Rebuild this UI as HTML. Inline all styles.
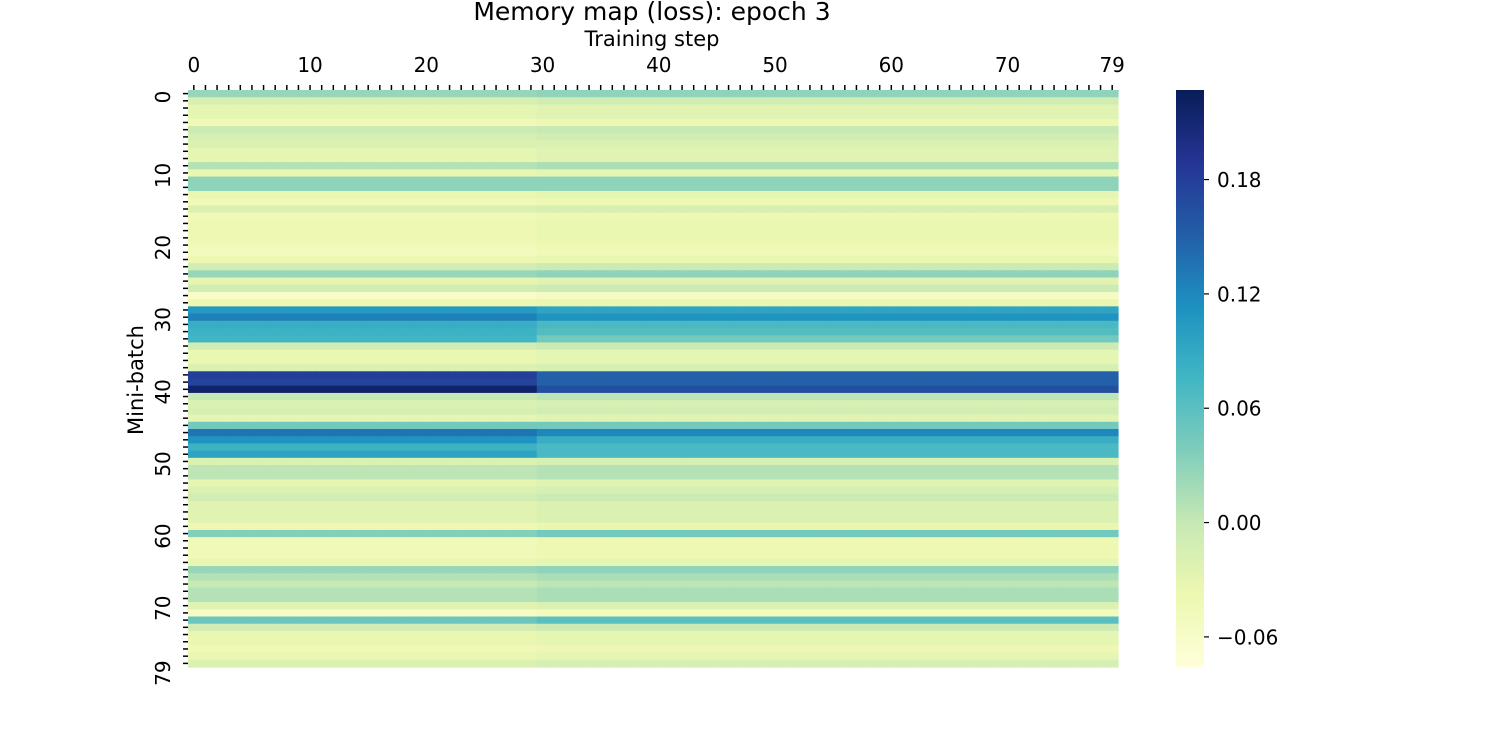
<!DOCTYPE html>
<html><head><meta charset="utf-8">
<style>
html,body{margin:0;padding:0;background:#fff;}
svg{display:block;font-family:"DejaVu Sans","Liberation Sans",sans-serif;}
</style></head>
<body>
<svg id="chart" width="1500" height="750" viewBox="0 0 1500 750" xmlns="http://www.w3.org/2000/svg">
  <rect width="1500" height="750" fill="#fff"/>
  <text x="652" y="20" font-size="25" text-anchor="middle" fill="#000">Memory map (loss): epoch 3</text>
  <text x="652" y="46" font-size="21" text-anchor="middle" fill="#000">Training step</text>
  <text transform="translate(143,380) rotate(-90)" font-size="21" text-anchor="middle" fill="#000">Mini-batch</text>
  <g id="cells"></g>
  <g id="xaxis"></g>
  <g id="yaxis"></g>
  <defs>
    <linearGradient id="cbgrad" x1="0" y1="1" x2="0" y2="0">
      <stop offset="0" stop-color="#ffffd9"/><stop offset="0.125" stop-color="#edf8b1"/>
      <stop offset="0.25" stop-color="#c7e9b4"/><stop offset="0.375" stop-color="#7fcdbb"/>
      <stop offset="0.5" stop-color="#41b6c4"/><stop offset="0.625" stop-color="#1d91c0"/>
      <stop offset="0.75" stop-color="#225ea8"/><stop offset="0.875" stop-color="#253494"/>
      <stop offset="1" stop-color="#081d58"/>
    </linearGradient>
  </defs>
  <rect x="1176" y="90" width="28" height="577" fill="url(#cbgrad)"/>
  <g id="cbaxis"></g>
</svg>
<script>
const steps = 80, batches = 80, splitStep = 30;
const rowBefore = [0.025,-0.015,-0.03,-0.03,-0.045,-0.005,-0.015,-0.02,-0.03,-0.03,
0.01,-0.035,0.03,0.03,-0.035,-0.045,-0.02,-0.045,-0.04,-0.04,
-0.04,-0.045,-0.05,-0.04,-0.01,0.025,-0.03,-0.01,-0.06,-0.04,
0.105,0.125,0.085,0.08,0.075,-0.01,-0.035,-0.035,-0.02,0.18,
0.175,0.215,0.0,-0.02,-0.015,-0.03,0.045,0.135,0.11,0.08,
0.095,-0.02,0.005,0.005,-0.03,-0.02,-0.01,-0.025,-0.025,-0.025,
-0.04,0.035,-0.045,-0.045,-0.045,-0.035,0.025,0.01,0.0,0.01,
0.01,-0.025,-0.055,0.05,-0.01,-0.035,-0.035,-0.045,-0.035,-0.02];
const rowAfter = [0.03,-0.01,-0.025,-0.025,-0.04,0.0,-0.01,-0.02,-0.025,-0.025,
0.015,-0.03,0.03,0.03,-0.03,-0.04,-0.015,-0.04,-0.035,-0.035,
-0.035,-0.04,-0.045,-0.035,-0.005,0.03,-0.025,-0.005,-0.055,-0.035,
0.095,0.11,0.07,0.065,0.045,-0.005,-0.03,-0.03,-0.015,0.15,
0.15,0.165,0.005,-0.015,-0.01,-0.025,0.045,0.12,0.085,0.07,
0.07,-0.015,0.01,0.01,-0.025,-0.015,-0.005,-0.02,-0.02,-0.02,
-0.035,0.045,-0.04,-0.04,-0.04,-0.03,0.03,0.015,0.005,0.015,
0.015,-0.02,-0.05,0.06,-0.005,-0.03,-0.03,-0.04,-0.03,-0.015];
const xTickLabels = [0,10,20,30,40,50,60,70,79];
const yTickLabels = [0,10,20,30,40,50,60,70,79];
const cbTicks = [0.18,0.12,0.06,0.00,-0.06];
const cbTickText = ["0.18","0.12","0.06","0.00","\u22120.06"];

const X0=188, X1=1118, Y0=90, Y1=667, vmin=-0.0758, vmax=0.227;
const cw=(X1-X0)/steps, ch=(Y1-Y0)/batches;
const xPos = c => X0 + c*cw;
const yPos = r => Y0 + r*ch;
const cbY = v => Y1 - (v-vmin)/(vmax-vmin)*(Y1-Y0);
const stops = ["#ffffd9","#edf8b1","#c7e9b4","#7fcdbb","#41b6c4","#1d91c0","#225ea8","#253494","#081d58"].map(h=>[1,3,5].map(i=>parseInt(h.substr(i,2),16)));
function color(v){
  let t=Math.max(0,Math.min(1,(v-vmin)/(vmax-vmin)))*(stops.length-1);
  let i=Math.min(stops.length-2,Math.floor(t)), f=t-i;
  const c=stops[i].map((a,k)=>Math.round(a+(stops[i+1][k]-a)*f));
  return `rgb(${c[0]},${c[1]},${c[2]})`;
}
const NS="http://www.w3.org/2000/svg";
function mk(tag,attrs,parent){const e=document.createElementNS(NS,tag);for(const k in attrs)e.setAttribute(k,attrs[k]);parent.appendChild(e);return e;}
const cells=document.getElementById('cells');
for(let r=0;r<batches;r++){
  for(let c=0;c<steps;c++){
    const v = c<splitStep ? rowBefore[r] : rowAfter[r];
    const e=mk('rect',{x:xPos(c),y:yPos(r),width:cw+0.6,height:ch+0.6,fill:color(v)},cells);
    
    
  }
}
const xa=document.getElementById('xaxis');
for(let c=0;c<steps;c++){
  const x=xPos(c)+cw/2;
  mk('line',{x1:x,x2:x,y1:Y0,y2:Y0-5,stroke:'#000','stroke-width':1.5},xa);
}
xTickLabels.forEach(l=>{
  const t=mk('text',{x:xPos(l)+cw/2,y:Y0-18,'font-size':20,'text-anchor':'middle',fill:'#000'},xa);
  t.textContent=l;
  
  
});
const ya=document.getElementById('yaxis');
for(let r=0;r<batches;r++){
  const y=yPos(r)+ch/2;
  mk('line',{x1:X0,x2:X0-5,y1:y,y2:y,stroke:'#000','stroke-width':1.5},ya);
}
yTickLabels.forEach(l=>{
  const y=yPos(l)+ch/2;
  const t=mk('text',{transform:`translate(${X0-18},${y-3}) rotate(-90)`,'font-size':20,'text-anchor':'end',fill:'#000'},ya);
  t.textContent=l;
  
  
});
const cb=document.getElementById('cbaxis');
cbTicks.forEach((v,i)=>{
  const y=cbY(v);
  mk('line',{x1:1204,x2:1209,y1:y,y2:y,stroke:'#000','stroke-width':1.2},cb);
  const t=mk('text',{x:1217,y:y+7.5,'font-size':20,fill:'#000'},cb);
  t.textContent=cbTickText[i];
  
  
});
</script>
</body></html>
